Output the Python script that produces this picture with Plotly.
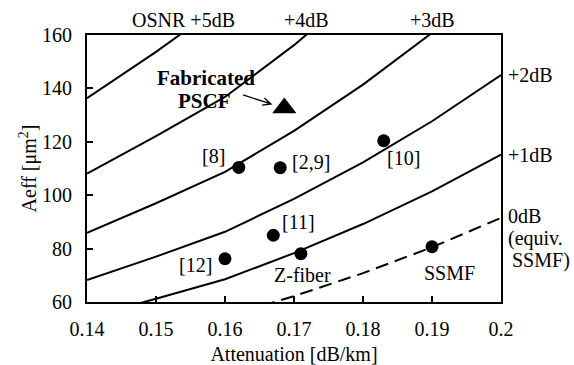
import plotly.graph_objects as go

# ---- data ----
atten = [0.14, 0.15, 0.16, 0.17, 0.18, 0.19, 0.20]
osnr_0db = [43.0, 48.6, 54.4, 62.2, 70.8, 80.5, 91.5]
osnr_1db = [54.2, 61.2, 68.5, 78.3, 89.2, 101.4, 115.2]
osnr_2db = [68.2, 77.0, 86.3, 98.6, 112.3, 127.7, 145.0]
osnr_3db = [85.9, 97.0, 108.7, 124.1, 141.4, 160.8, 182.6]
osnr_4db = [108.1, 122.1, 136.8, 156.2, 178.0, None, None]
osnr_5db = [136.3, 153.7, 172.2, None, None, None, None]

fiber_names = ["[8]", "[2,9]", "[10]", "[11]", "[12]", "Z-fiber", "SSMF"]
fiber_atten = [0.162, 0.168, 0.183, 0.167, 0.160, 0.171, 0.190]
fiber_aeff = [110.4, 110.3, 120.4, 85.0, 76.2, 78.1, 80.7]

pscf_atten = [0.1686]
pscf_aeff = [132.7]

x_ticks = [0.14, 0.15, 0.16, 0.17, 0.18, 0.19, 0.2]
x_tick_text = ["0.14", "0.15", "0.16", "0.17", "0.18", "0.19", "0.2"]
y_ticks = [60, 80, 100, 120, 140, 160]

FONT = "Liberation Serif, Times New Roman, serif"
FS = 20

fig = go.Figure()
for ys in [osnr_1db, osnr_2db, osnr_3db, osnr_4db, osnr_5db]:
    fig.add_trace(go.Scatter(x=atten, y=ys, mode="lines",
                             line=dict(color="black", width=2),
                             hoverinfo="skip", showlegend=False))
fig.add_trace(go.Scatter(x=atten, y=osnr_0db, mode="lines",
                         line=dict(color="black", width=2, dash="13px,7px"),
                         hoverinfo="skip", showlegend=False))
fig.add_trace(go.Scatter(x=fiber_atten, y=fiber_aeff, mode="markers",
                         marker=dict(color="black", size=13, symbol="circle"),
                         showlegend=False, cliponaxis=False))
fig.add_trace(go.Scatter(x=pscf_atten, y=pscf_aeff, mode="markers",
                         marker=dict(color="black", size=21, symbol="triangle-up"),
                         showlegend=False, cliponaxis=False))

annots = []
label_pos = {
    "[8]": (0.1583, 114.7),
    "[2,9]": (0.1725, 112.5),
    "[10]": (0.1858, 113.8),
    "[11]": (0.1707, 90.1),
    "[12]": (0.1557, 73.9),
    "Z-fiber": (0.1713, 70.1),
    "SSMF": (0.1925, 70.9),
}
for name in fiber_names:
    lx, ly = label_pos[name]
    annots.append(dict(x=lx, y=ly, xref="x", yref="y", text=name, showarrow=False,
                       xanchor="center", yanchor="middle",
                       font=dict(family=FONT, size=FS, color="black")))
annots.append(dict(x=0.1572, y=143.8, xref="x", yref="y", text="<b>Fabricated</b>",
                   showarrow=False, font=dict(family=FONT, size=FS + 1, color="black")))
annots.append(dict(x=0.1571, y=135.3, xref="x", yref="y", text="<b>PSCF</b>",
                   showarrow=False, font=dict(family=FONT, size=FS + 1, color="black")))

top_labels = [("OSNR +5dB", 0.2326), ("+4dB", 0.529), ("+3dB", 0.8357)]
for t, px in top_labels:
    annots.append(dict(x=px, y=1.0562, xref="paper", yref="paper", text=t,
                       showarrow=False, xanchor="center", yanchor="middle",
                       font=dict(family=FONT, size=FS, color="black")))
right_labels = [("+2dB", 1.011, 0.850), ("+1dB", 1.011, 0.5506),
                ("0dB", 1.011, 0.3215), ("(equiv.", 1.011, 0.2397),
                ("SSMF)", 1.022, 0.1553)]
for t, px, py in right_labels:
    annots.append(dict(x=px, y=py, xref="paper", yref="paper", text=t,
                       showarrow=False, xanchor="left", yanchor="middle",
                       font=dict(family=FONT, size=FS, color="black")))

# open arrow pointing at the fabricated PSCF
arrow_path = ("M 0.16261,137.53 L 0.16667,134.16 "
              "M 0.16571,136.44 L 0.16667,134.16 L 0.16538,133.75")
shapes = [dict(type="path", xref="x", yref="y", path=arrow_path,
               line=dict(color="black", width=1.3))]

fig.update_layout(
    width=574, height=365,
    margin=dict(l=87, r=73, t=35, b=63),
    paper_bgcolor="white", plot_bgcolor="white",
    font=dict(family=FONT, size=FS, color="black"),
    annotations=annots, shapes=shapes,
    xaxis=dict(range=[0.14, 0.2], tickvals=x_ticks, ticktext=x_tick_text,
               automargin=False,
               ticks="inside", ticklen=6, tickwidth=1.5, tickcolor="black",
               showline=True, linecolor="black", linewidth=2, mirror=True,
               showgrid=False, zeroline=False, ticklabelstandoff=8,
               tickfont=dict(family=FONT, size=FS, color="black"),
               title=dict(text="Attenuation [dB/km]", standoff=8,
                          font=dict(family=FONT, size=FS, color="black"))),
    yaxis=dict(range=[60, 160], tickvals=y_ticks,
               automargin=False,
               ticks="inside", ticklen=6, tickwidth=1.5, tickcolor="black",
               showline=True, linecolor="black", linewidth=2, mirror=True,
               showgrid=False, zeroline=False, ticklabelstandoff=9,
               tickfont=dict(family=FONT, size=FS, color="black"),
               title=dict(text="Aeff [μm<sup>2</sup>]", standoff=0,
                          font=dict(family=FONT, size=FS, color="black"))),
)

fig.write_html("out.html",
               config={"displayModeBar": False},
               post_script="document.body.style.margin='0px';"
                           "document.body.style.overflow='hidden';")
